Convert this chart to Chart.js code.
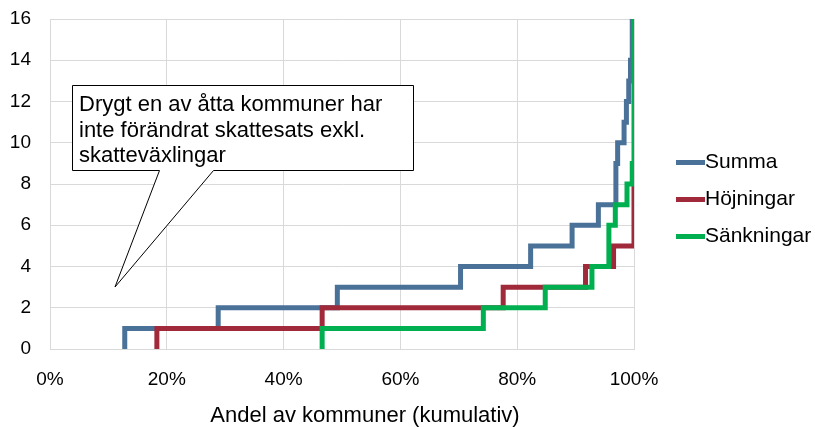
<!DOCTYPE html>
<html>
<head>
<meta charset="utf-8">
<script src="https://cdn.jsdelivr.net/npm/chart.js@4"></script>
<style>
  html, body { margin: 0; padding: 0; background: #fff; }
  #wrap { width: 815px; height: 427px; }
</style>
</head>
<body>
<div id="wrap"><canvas id="myChart"></canvas></div>
<script>
// Step curves: x = share of municipalities (%), y = value reached at that x
var sumX = [12.8, 12.8, 28.8, 49.2, 70.3, 82.3, 89.4, 93.9, 96.9, 97.2, 98.3, 98.7, 99.1, 99.4, 99.7];
var sumY = [0, 1, 2, 3, 4, 5, 6, 7, 9, 10, 11, 12, 13, 14, 16];
var hojX = [18.3, 18.3, 46.6, 77.6, 91.7, 96.5, 100];
var hojY = [0, 1, 2, 3, 4, 5, 8];
var sankX = [46.6, 46.6, 74.2, 84.8, 92.8, 95.7, 96.8, 98.8, 99.7, 100];
var sankY = [0, 1, 2, 3, 4, 6, 7, 8, 9, 16];
var seriesNames = ['Summa', 'Höjningar', 'Sänkningar'];
var seriesColors = ['#4A7298', '#A0293A', '#00B050'];
var calloutLines = ['Drygt en av åtta kommuner har', 'inte förändrat skattesats exkl.', 'skatteväxlingar'];
var xTitle = 'Andel av kommuner (kumulativ)';

var FONT = "'Liberation Sans', Arial, sans-serif";

function toPoints(xs, ys) {
    return xs.map(function (x, i) { return { x: x, y: ys[i] }; });
}

// Callout box, legend and axis title drawn on top of the chart
var extras = {
    id: 'extras',
    afterDraw: function (chart) {
        var ctx = chart.ctx;
        ctx.save();

        // callout with wedge
        ctx.beginPath();
        ctx.moveTo(72.5, 85.5);
        ctx.lineTo(413.5, 85.5);
        ctx.lineTo(413.5, 170.5);
        ctx.lineTo(213.5, 170.5);
        ctx.lineTo(115, 287);
        ctx.lineTo(159.5, 170.5);
        ctx.lineTo(72.5, 170.5);
        ctx.closePath();
        ctx.fillStyle = '#fff';
        ctx.fill();
        ctx.strokeStyle = '#000';
        ctx.lineWidth = 1;
        ctx.stroke();

        ctx.fillStyle = '#000';
        ctx.font = '22px ' + FONT;
        ctx.textAlign = 'left';
        ctx.textBaseline = 'alphabetic';
        calloutLines.forEach(function (t, i) {
            ctx.fillText(t, 79, 111 + i * 25.5);
        });

        // legend
        ctx.font = '21px ' + FONT;
        ctx.textBaseline = 'middle';
        seriesNames.forEach(function (name, i) {
            var y = 162.5 + i * 37;
            ctx.strokeStyle = seriesColors[i];
            ctx.lineWidth = 5;
            ctx.beginPath();
            ctx.moveTo(676, y);
            ctx.lineTo(705, y);
            ctx.stroke();
            ctx.fillStyle = '#000';
            ctx.fillText(name, 705, y);
        });

        // x axis title
        ctx.font = '22px ' + FONT;
        ctx.textAlign = 'center';
        ctx.fillText(xTitle, 365, 416);
        ctx.restore();
    }
};

var ctx = document.getElementById('myChart').getContext('2d');
var myChart = new Chart(ctx, {
    type: 'line',
    data: {
        datasets: [
            { label: seriesNames[0], data: toPoints(sumX, sumY), order: 3 },
            { label: seriesNames[1], data: toPoints(hojX, hojY), order: 2 },
            { label: seriesNames[2], data: toPoints(sankX, sankY), order: 1 }
        ].map(function (d, i) {
            d.borderColor = seriesColors[i];
            d.backgroundColor = seriesColors[i];
            d.borderWidth = 5;
            d.pointRadius = 0;
            d.stepped = 'before';
            d.fill = false;
            return d;
        })
    },
    options: {
        responsive: true,
        maintainAspectRatio: false,
        animation: false,
        layout: { padding: { top: 19, right: 181, left: 0, bottom: 0 } },
        plugins: {
            legend: { display: false },
            tooltip: { enabled: false }
        },
        scales: {
            x: {
                type: 'linear',
                min: 0,
                max: 100,
                grid: { color: '#d9d9d9', drawTicks: false },
                border: { color: '#d9d9d9' },
                ticks: {
                    stepSize: 20,
                    padding: 19,
                    color: '#000',
                    font: { family: FONT, size: 19 },
                    callback: function (v) { return v + '%'; }
                },
                afterFit: function (scale) {
                    scale.height = 78;
                    scale.paddingLeft = 0;
                    scale.paddingRight = 0;
                }
            },
            y: {
                min: 0,
                max: 16,
                grid: { color: '#d9d9d9', drawTicks: false },
                border: { color: '#d9d9d9' },
                ticks: {
                    stepSize: 2,
                    padding: 19,
                    color: '#000',
                    font: { family: FONT, size: 19 }
                },
                afterFit: function (scale) {
                    scale.width = 50;
                    scale.paddingTop = 0;
                    scale.paddingBottom = 0;
                }
            }
        }
    },
    plugins: [extras]
});
</script>
</body>
</html>
